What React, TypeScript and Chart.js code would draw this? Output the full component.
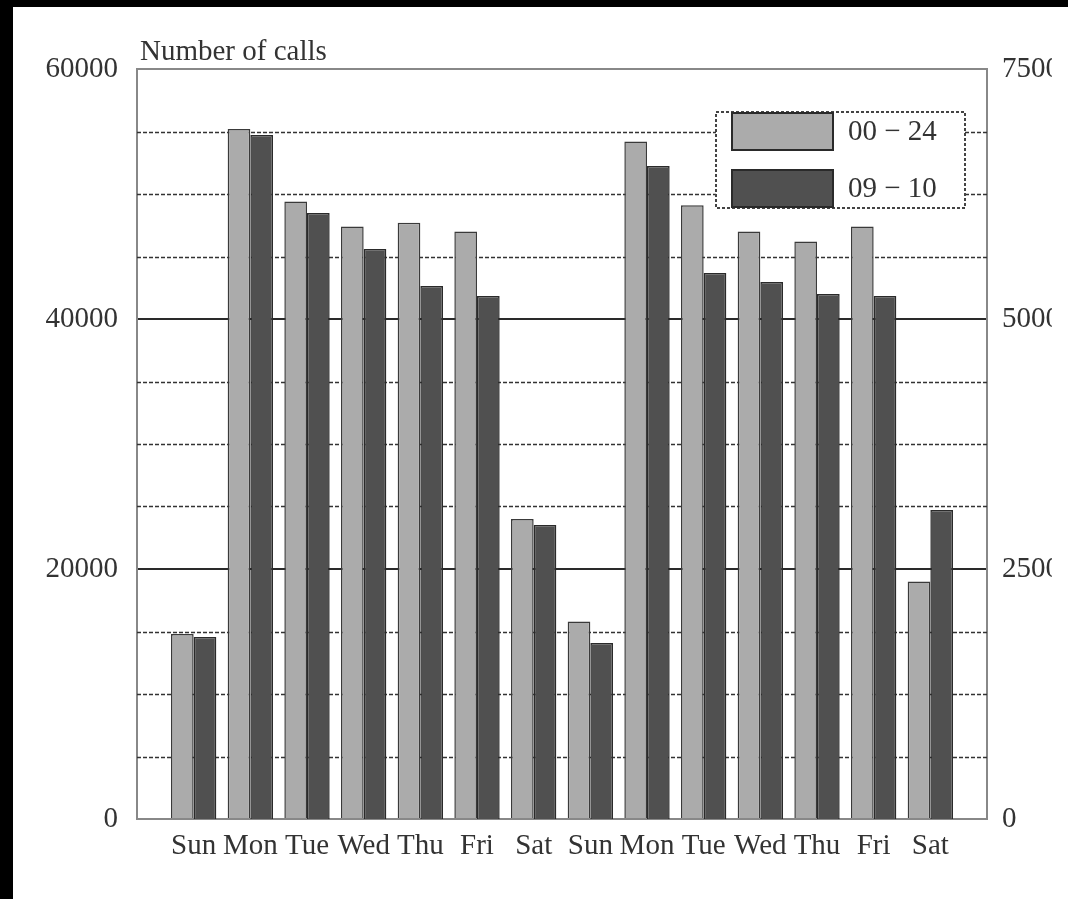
import React, { useEffect, useRef } from 'react';
import { Chart, registerables } from 'chart.js';

Chart.register(...registerables);

// ---- data ----
const days = ['Sun', 'Mon', 'Tue', 'Wed', 'Thu', 'Fri', 'Sat', 'Sun', 'Mon', 'Tue', 'Wed', 'Thu', 'Fri', 'Sat'];
const allDayCalls = [14800, 55200, 49400, 47400, 47700, 47000, 24000, 15800, 54200, 49100, 47000, 46200, 47400, 19000];
const peakHourCalls = [1820, 6840, 6060, 5700, 5330, 5230, 2940, 1760, 6530, 5460, 5370, 5250, 5230, 3090];
const seriesNames = ['00 \u2212 24', '09 \u2212 10'];
const axisTitle = 'Number of calls';
const leftMax = 60000;
const leftStep = 20000;
const minorStep = 5000;
const rightMax = 7500;
const rightStep = 2500;

const FONT = '"Liberation Serif", "Times New Roman", serif';
const TEXT = '#333333';

const minorGridPlugin = {
  id: 'minorGrid',
  beforeDatasetsDraw(chart: any) {
    const { ctx, chartArea: a, scales } = chart;
    const y = scales.y;
    ctx.save();
    ctx.strokeStyle = '#333333';
    ctx.lineWidth = 1.5;
    ctx.setLineDash([4, 2]);
    for (let v = minorStep; v < leftMax; v += minorStep) {
      if (v % leftStep === 0) continue;
      const py = Math.round(y.getPixelForValue(v)) + 0.5;
      ctx.beginPath();
      ctx.moveTo(a.left, py);
      ctx.lineTo(a.right, py);
      ctx.stroke();
    }
    ctx.restore();
  },
};

const legendTitlePlugin = {
  id: 'boxLegend',
  afterDraw(chart: any) {
    const { ctx, chartArea: a } = chart;
    ctx.save();
    // axis title
    ctx.fillStyle = TEXT;
    ctx.font = `29px ${FONT}`;
    ctx.textAlign = 'left';
    ctx.textBaseline = 'alphabetic';
    ctx.fillText(axisTitle, a.left + 3, a.top - 9);

    // legend box
    const bx = a.right - 271;
    const by = a.top + 43;
    const bw = 249;
    const bh = 96;
    ctx.fillStyle = '#ffffff';
    ctx.fillRect(bx, by, bw, bh);
    ctx.setLineDash([3, 2]);
    ctx.strokeStyle = '#444444';
    ctx.lineWidth = 2;
    ctx.strokeRect(bx, by, bw, bh);
    ctx.setLineDash([]);
    chart.data.datasets.forEach((ds: any, i: number) => {
      const sy = by + 1 + i * 57;
      ctx.fillStyle = ds.backgroundColor;
      ctx.fillRect(bx + 16, sy, 101, 37);
      ctx.strokeStyle = '#2a2a2a';
      ctx.lineWidth = 2;
      ctx.strokeRect(bx + 16, sy, 101, 37);
      ctx.fillStyle = TEXT;
      ctx.font = `29px ${FONT}`;
      ctx.textBaseline = 'middle';
      ctx.textAlign = 'left';
      ctx.fillText(ds.label, bx + 132, sy + 19);
    });
    ctx.restore();
  },
};

const plainNumber = (v: any) => String(v);

export default function App() {
  const ref = useRef<HTMLCanvasElement | null>(null);

  useEffect(() => {
    if (!ref.current) return;
    const labels = ['', ...days, ''];
    const chart = new Chart(ref.current, {
      type: 'bar',
      data: {
        labels,
        datasets: [
          {
            label: seriesNames[0],
            data: [null, ...allDayCalls, null],
            backgroundColor: '#ababab',
            borderColor: '#3a3a3a',
            borderWidth: 1.5,
            yAxisID: 'y',
            categoryPercentage: 0.8,
            barPercentage: 1.0,
          },
          {
            label: seriesNames[1],
            data: [null, ...peakHourCalls, null],
            backgroundColor: '#505050',
            borderColor: '#2a2a2a',
            borderWidth: 1.5,
            yAxisID: 'y1',
            categoryPercentage: 0.8,
            barPercentage: 1.0,
          },
        ],
      },
      options: {
        animation: false,
        responsive: false,
        maintainAspectRatio: false,
        devicePixelRatio: 1,
        layout: { padding: { top: 69, left: 0, right: 0, bottom: 0 } },
        plugins: {
          legend: { display: false },
          tooltip: { enabled: false },
          title: { display: false },
        },
        scales: {
          x: {
            type: 'category',
            offset: false,
            grid: { display: false, drawTicks: false },
            border: { display: true, color: '#888888', width: 2 },
            ticks: {
              autoSkip: false,
              maxRotation: 0,
              minRotation: 0,
              padding: 10,
              color: TEXT,
              font: { family: FONT, size: 29 },
            },
            afterFit: (s: any) => {
              s.height = 80;
            },
          },
          y: {
            position: 'left',
            min: 0,
            max: leftMax,
            ticks: {
              stepSize: leftStep,
              padding: 19,
              color: TEXT,
              font: { family: FONT, size: 29 },
              callback: plainNumber,
            },
            grid: {
              drawTicks: false,
              color: (c: any) => (c.tick && (c.tick.value === 0 || c.tick.value === leftMax) ? '#888888' : '#2a2a2a'),
              lineWidth: 2,
            },
            border: { display: true, color: '#888888', width: 2 },
            afterFit: (s: any) => {
              s.width = 137;
            },
          },
          y1: {
            position: 'right',
            min: 0,
            max: rightMax,
            ticks: {
              stepSize: rightStep,
              padding: 15,
              color: TEXT,
              font: { family: FONT, size: 29 },
              callback: plainNumber,
            },
            grid: { display: false, drawTicks: false },
            border: { display: true, color: '#888888', width: 2 },
            afterFit: (s: any) => {
              s.width = 65;
            },
          },
        },
      },
      plugins: [minorGridPlugin, legendTitlePlugin],
    });
    return () => chart.destroy();
  }, []);

  return (
    <div
      style={{
        position: 'fixed',
        left: 0,
        top: 0,
        width: 1068,
        height: 899,
        overflow: 'hidden',
        background: '#ffffff',
      }}
    >
      <canvas
        ref={ref}
        width={1052}
        height={899}
        style={{ position: 'absolute', left: 0, top: 0, width: 1052, height: 899 }}
      />
      <div style={{ position: 'absolute', left: 0, top: 0, width: 1068, height: 7, background: '#000' }} />
      <div style={{ position: 'absolute', left: 0, top: 0, width: 13, height: 899, background: '#000' }} />
    </div>
  );
}
